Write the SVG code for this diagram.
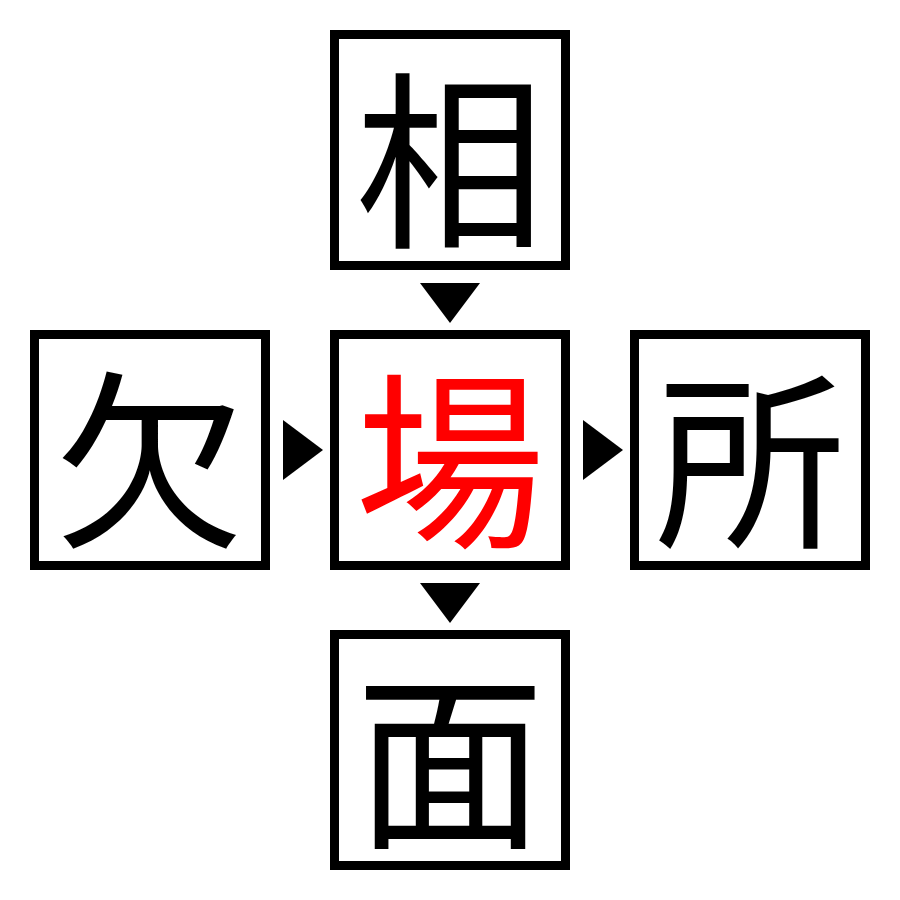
<svg xmlns="http://www.w3.org/2000/svg" width="900" height="900" viewBox="0 0 900 900">
<style>
.box{fill:#fff;stroke:#000;stroke-width:9}
.ch{font-family:"Noto Sans CJK JP","Noto Sans CJK SC",sans-serif;font-size:190px;text-anchor:middle;dominant-baseline:central;fill:#000}
.red{fill:#ff0000}
.arr{fill:#000}
</style>
<rect width="900" height="900" fill="#fff"/>
<g id="top"><rect class="box" x="334.5" y="34.5" width="231" height="231"/><text class="ch" x="450" y="150">相</text></g>
<g id="left"><rect class="box" x="34.5" y="334.5" width="231" height="231"/><text class="ch" x="150" y="450">欠</text></g>
<g id="center"><rect class="box" x="334.5" y="334.5" width="231" height="231"/><text class="ch red" x="450" y="450">場</text></g>
<g id="right"><rect class="box" x="634.5" y="334.5" width="231" height="231"/><text class="ch" x="750" y="450">所</text></g>
<g id="bottom"><rect class="box" x="334.5" y="634.5" width="231" height="231"/><text class="ch" x="450" y="750">面</text></g>
<g id="connectors">
<polygon class="arr" points="420,283 480,283 450,323"/>
<polygon class="arr" points="420,583 480,583 450,623"/>
<polygon class="arr" points="283,420 283,480 323,450"/>
<polygon class="arr" points="583,420 583,480 623,450"/>
</g>
</svg>
